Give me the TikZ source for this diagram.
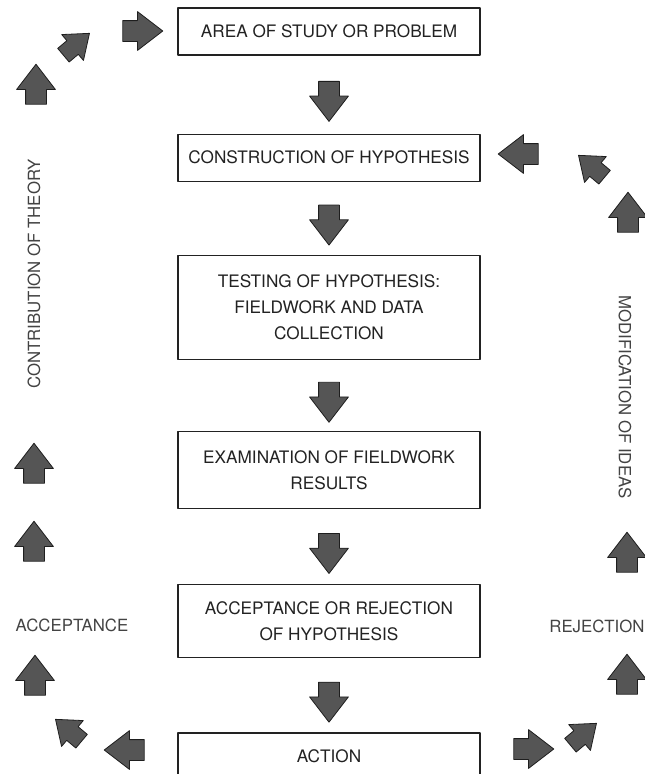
\documentclass[tikz,border=0pt]{standalone}
\usepackage{fontspec}
\setmainfont{TeX Gyre Heros}
\usepackage{tikz}
\usetikzlibrary{positioning,calc,shapes.arrows}
\definecolor{ink}{HTML}{222222}
\definecolor{arrowgrey}{HTML}{555555}
\definecolor{arrowedge}{HTML}{1E1E1E}
\tikzset{
    every picture/.style={line cap=round,line join=round},
    stagebox/.style={draw=ink,line width=1.2pt,minimum width=302pt,inner sep=2pt,
      font=\fontsize{17.2}{26}\selectfont,text=ink,align=center},
    blockarrow/.style={single arrow,draw=arrowedge,fill=arrowgrey,line width=0.8pt,
      minimum height=40pt,inner xsep=0pt,inner ysep=10pt,
      single arrow head extend=9pt,single arrow tip angle=75,
      single arrow head indent=0pt},
    diagarrow/.style={blockarrow,minimum height=34pt,inner ysep=8.5pt,
      single arrow head extend=8pt},
    sidelabel/.style={font=\fontsize{16.8}{19}\selectfont,text=ink!85,inner sep=0pt}
}
\begin{document}
\begin{tikzpicture}[x=1pt,y=-1pt]
    \useasboundingbox (0,0) rectangle (645,774);
    % main column
    \node[stagebox,minimum height=47pt] (area) at (329,31.5) {AREA OF STUDY OR PROBLEM};
    \node[stagebox,minimum height=47pt,below=78pt of area] (hypo) {CONSTRUCTION OF HYPOTHESIS};
    \node[stagebox,minimum height=104pt,below=73pt of hypo] (test)
      {TESTING OF HYPOTHESIS:\\FIELDWORK AND DATA\\COLLECTION};
    \node[stagebox,minimum height=77pt,below=71pt of test] (exam)
      {EXAMINATION OF FIELDWORK\\RESULTS};
    \node[stagebox,minimum height=73pt,below=75pt of exam] (accept)
      {ACCEPTANCE OR REJECTION\\OF HYPOTHESIS};
    \node[stagebox,minimum height=47pt,below=74pt of accept] (action) {ACTION};
    \foreach \a/\b [count=\i] in {area/hypo,hypo/test,test/exam,exam/accept,accept/action}
        \node[blockarrow,rotate=-90] (down\i) at ($(\a.south)!0.5!(\b.north)$) {};
    % left loop: acceptance
    \foreach \n/\x/\y/\r in {acc1/131/750/180,acc3/35/682/90,acc4/34/548/90,
        acc5/34/470/90,acc6/36/91/90,acc8/136/31/0}
        \node[blockarrow,rotate=\r] (\n) at (\x,\y) {};
    \node[diagarrow,rotate=140] (acc2) at (73,734) {};
    \node[diagarrow,rotate=40] (acc7) at (72,48) {};
    \node[sidelabel] (acctext) at (72,625) {ACCEPTANCE};
    \node[sidelabel,rotate=90] (theory) at (34,274) {CONTRIBUTION OF THEORY};
    % right loop: rejection
    \foreach \n/\x/\y/\r in {rej1/527/749/0,rej3/627/681/90,rej4/627/559/90,
        rej5/628/219/90,rej7/525/154/180}
        \node[blockarrow,rotate=\r] (\n) at (\x,\y) {};
    \node[diagarrow,rotate=40] (rej2) at (579,738) {};
    \node[diagarrow,rotate=140] (rej6) at (596,170) {};
    \node[sidelabel] (rejtext) at (597,626) {REJECTION};
    \node[sidelabel,rotate=-90] (ideas) at (625,397) {MODIFICATION OF IDEAS};
\end{tikzpicture}
\end{document}
